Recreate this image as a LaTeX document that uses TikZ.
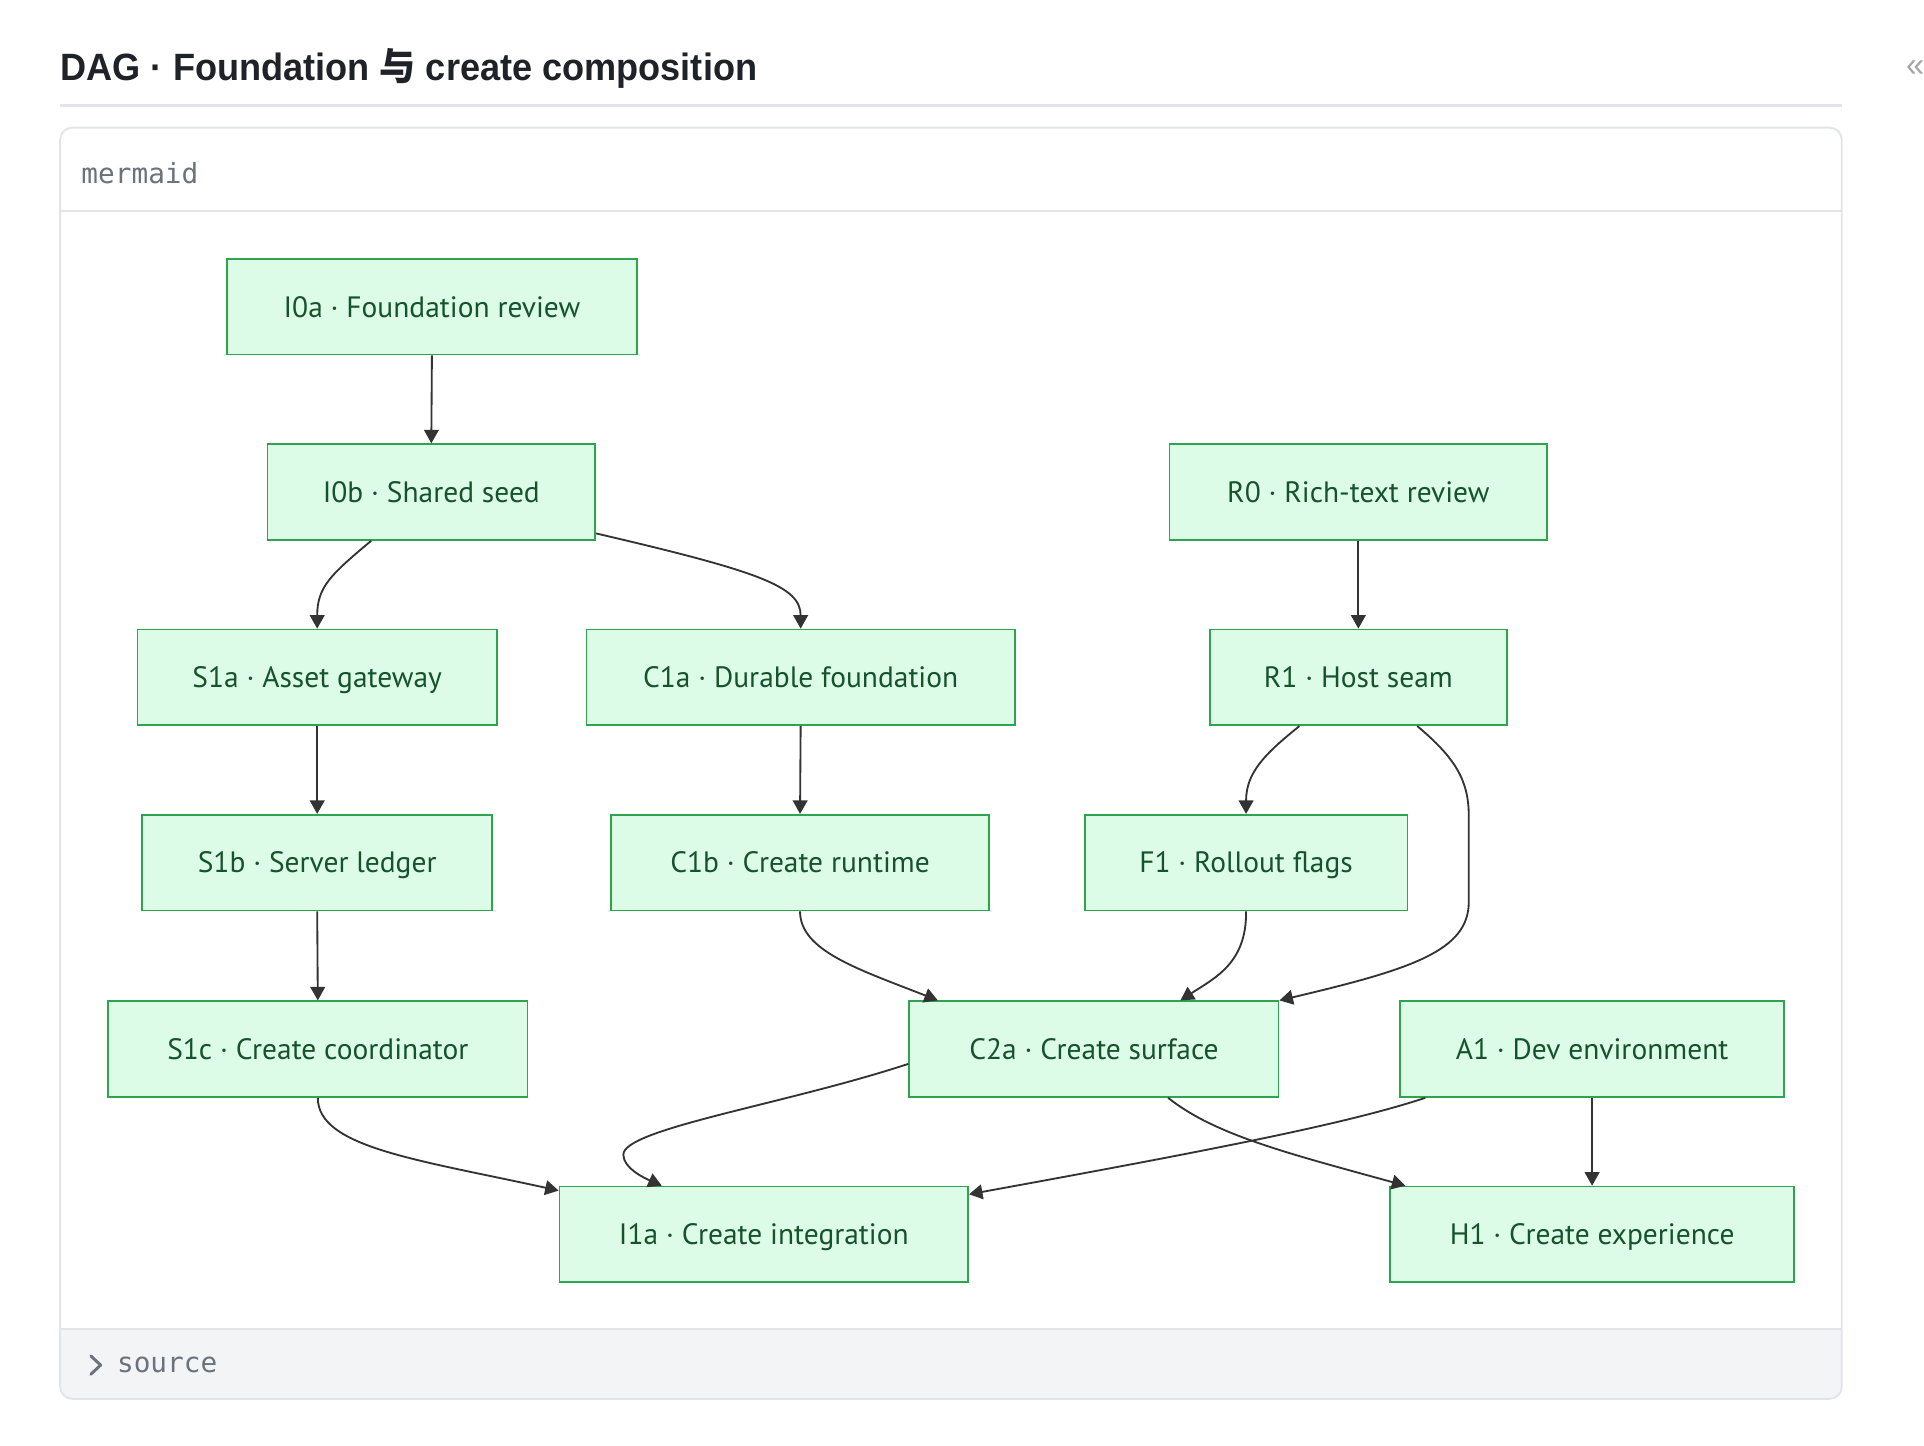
\documentclass[tikz,border=0pt]{standalone}
\usepackage{fontspec}
\setmainfont{PT Sans}
\newfontfamily\titlefont[FakeStretch=0.95]{Liberation Sans}
\newfontfamily\cjkfont[FakeStretch=0.95]{Noto Sans CJK SC}
\newfontfamily\codefont{DejaVu Sans Mono}
\usetikzlibrary{arrows.meta,calc}
\definecolor{nodefill}{RGB}{220,252,231}
\definecolor{nodeborder}{RGB}{46,164,79}
\definecolor{nodetext}{RGB}{22,83,45}
\definecolor{edgecol}{RGB}{51,51,51}
\definecolor{panelborder}{RGB}{225,228,232}
\definecolor{barfill}{RGB}{243,244,246}
\definecolor{mutedtext}{RGB}{106,115,125}
\definecolor{titletext}{RGB}{31,35,40}
\begin{document}
\begin{tikzpicture}[x=0.5pt,y=-0.5pt,
  box/.style={draw=nodeborder, fill=nodefill, line width=0.7pt, inner sep=0pt,
    minimum height=39pt, text height=8.4pt, text depth=0pt, text=nodetext,
    font=\fontsize{12}{14}\selectfont},
  edge/.style={draw=edgecol, line width=0.75pt, -{Triangle[length=5.5pt,width=6pt]}},
  muted/.style={text=mutedtext, font=\codefont\fontsize{11.3}{13}\selectfont, inner sep=0pt}
]
\useasboundingbox (0,0) rectangle (1568,1178);
\fill[white] (0,0) rectangle (1568,1178);

% title
\node[anchor=west, inner sep=0pt, text=titletext, font=\titlefont\bfseries\fontsize{15.5}{18}\selectfont] (title) at (49,56)
  {DAG · Foundation {\cjkfont\bfseries 与} create composition};
\node[anchor=west, inner sep=0pt, text=gray!70, font=\titlefont\fontsize{14}{16}\selectfont] (collapse) at (1553,56) {«};
\draw[panelborder, line width=1pt] (49,86) -- (1501,86);

% panel
\begin{scope}
  \clip[rounded corners=5pt] (49,104) rectangle (1501,1140);
  \fill[barfill] (49,1083) rectangle (1501,1140);
\end{scope}
\draw[panelborder, line width=0.75pt] (49,172) -- (1501,172);
\draw[panelborder, line width=0.75pt] (49,1083) -- (1501,1083);
\draw[panelborder, line width=0.75pt, rounded corners=5pt] (49,104) rectangle (1501,1140);
\node[muted, anchor=west] (mermaidlabel) at (66,141) {mermaid};
\node[muted, anchor=west] (sourcelabel) at (95,1112) {source};
\draw[mutedtext, line width=1.2pt, line cap=round, line join=round] (74,1105) -- (82,1112.5) -- (74,1120);

% nodes
\node[box, minimum width=167pt] (I0a) at (352,250) {I0a · Foundation review};
\node[box, minimum width=133.5pt] (I0b) at (351.5,401) {I0b · Shared seed};
\node[box, minimum width=154pt] (R0) at (1107,401) {R0 · Rich-text review};
\node[box, minimum width=146.5pt] (S1a) at (258.5,552) {S1a · Asset gateway};
\node[box, minimum width=174.5pt] (C1a) at (652.5,552) {C1a · Durable foundation};
\node[box, minimum width=121pt] (R1) at (1107,552) {R1 · Host seam};
\node[box, minimum width=142.5pt] (S1b) at (258.5,703) {S1b · Server ledger};
\node[box, minimum width=154pt] (C1b) at (652,703) {C1b · Create runtime};
\node[box, minimum width=131.5pt] (F1) at (1015.5,703) {F1 · Rollout flags};
\node[box, minimum width=171pt] (S1c) at (259,855) {S1c · Create coordinator};
\node[box, minimum width=150.5pt] (C2a) at (891.5,855) {C2a · Create surface};
\node[box, minimum width=156.5pt] (A1) at (1297.5,855) {A1 · Dev environment};
\node[box, minimum width=166.5pt] (I1a) at (622.5,1006) {I1a · Create integration};
\node[box, minimum width=164.5pt] (H1) at (1297.5,1006) {H1 · Create experience};

% straight edges
\draw[edge] (I0a.south) -- (I0b.north);
\draw[edge] (R0.south) -- (R1.north);
\draw[edge] (S1a.south) -- (S1b.north);
\draw[edge] (C1a.south) -- (C1b.north);
\draw[edge] (S1b.south) -- (S1c.north);
\draw[edge] (A1.south) -- (H1.north);

% curved edges
\draw[edge] ([xshift=-24.5pt]I0b.south) .. controls (270,468) and (258.5,478) .. (S1a.north);
\draw[edge] ([yshift=3pt]I0b.south east) .. controls (620,466) and (652.5,478) .. (C1a.north);
\draw[edge] ([xshift=-24pt]R1.south) .. controls (1030,615) and (1015.5,630) .. (F1.north);
\draw[edge] ([xshift=24pt]R1.south) .. controls (1185,617) and (1197,635) .. (1197,665)
   -- (1197,735) .. controls (1197,775) and (1150,790) .. (C2a.north east);
\draw[edge] (C1b.south) .. controls (652,775) and (700,790) .. ([xshift=12pt]C2a.north west);
\draw[edge] (F1.south) .. controls (1016,785) and (990,797) .. ([xshift=35.25pt]C2a.north);
\draw[edge] (S1c.south) .. controls (259,935) and (340,945) .. ([yshift=-2pt]I1a.north west);
\draw[edge] ([yshift=-6pt]C2a.west) .. controls (640,900) and (508,920) .. (508,941)
   .. controls (508,952) and (525,960) .. ([xshift=42pt]I1a.north west);
\draw[edge] ([xshift=30.25pt]C2a.south) .. controls (990,925) and (1050,940) .. ([xshift=6.5pt]H1.north west);
\draw[edge] ([xshift=-68pt]A1.south) .. controls (1100,915) and (1000,935) .. ([yshift=-3.5pt]I1a.north east);
\end{tikzpicture}
\end{document}
